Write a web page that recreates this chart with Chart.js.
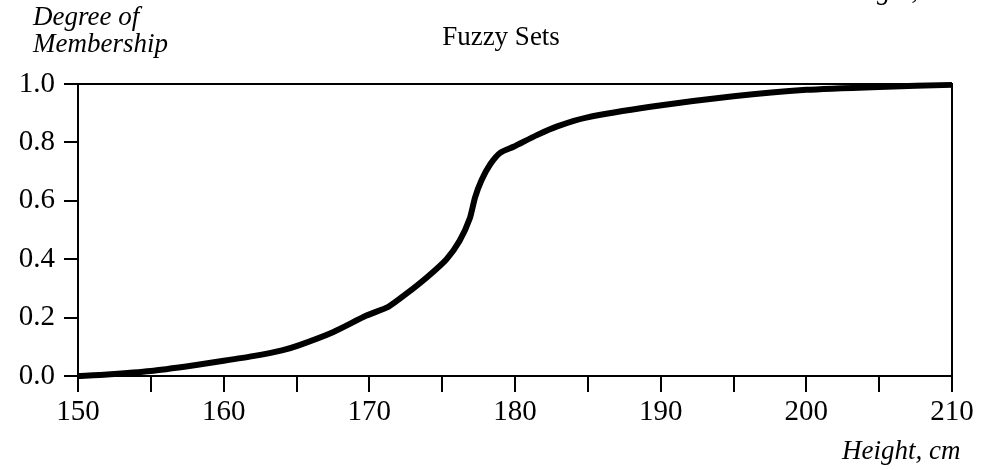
<!DOCTYPE html>
<html>
<head>
<meta charset="utf-8">
<script src="https://cdn.jsdelivr.net/npm/chart.js@4.4.1/dist/chart.umd.min.js"></script>
<style>
    html, body { margin: 0; padding: 0; background: #fff; }
    #wrap { width: 982px; height: 470px; position: relative; }
</style>
</head>
<body>
<div id="wrap"><canvas id="myChart"></canvas></div>
<script>
// values
const heights = [150, 152, 155, 158, 160, 162, 164, 165.2, 167.5, 169.8, 171.3, 172.5, 174, 175.3,
    176.2, 176.9, 177.25, 177.7, 178.3, 179, 179.9, 181.5, 182.9, 184.9, 189.3, 195, 200, 205, 210];
const membership = [0.0, 0.005, 0.017, 0.037, 0.052, 0.068, 0.088, 0.106, 0.15, 0.207, 0.237, 0.28, 0.34, 0.40,
    0.463, 0.54, 0.61, 0.67, 0.725, 0.765, 0.785, 0.825, 0.855, 0.885, 0.922, 0.958, 0.98, 0.99, 0.997];

const chartTitle = 'Fuzzy Sets';
const yTitle = ['Degree of', 'Membership'];
const xTitle = 'Height, cm';

const serif = '"Liberation Serif", "Times New Roman", serif';

const frameAndText = {
    id: 'frameAndText',
    afterDraw(chart) {
        const c = chart.ctx;
        const a = chart.chartArea;
        c.save();
        c.strokeStyle = '#000';
        c.lineWidth = 2;
        c.beginPath();
        c.moveTo(a.left, a.top);
        c.lineTo(a.right, a.top);
        c.lineTo(a.right, a.bottom);
        c.stroke();

        c.fillStyle = '#000';
        c.textBaseline = 'alphabetic';
        c.font = '27px ' + serif;
        c.textAlign = 'center';
        c.fillText(chartTitle, 501, 45);

        c.font = 'italic 27px ' + serif;
        c.textAlign = 'left';
        c.fillText(yTitle[0], 33, 25);
        c.fillText(yTitle[1], 33, 52);
        c.fillText(xTitle, 842, 459);
        // clipped copy of the axis title at the very top
        c.fillText(xTitle, 838, -1);
        c.restore();
    }
};

const ctx = document.getElementById('myChart');

const myChart = new Chart(ctx, {
    type: 'line',
    data: {
        datasets: [{
            data: heights.map((h, i) => ({ x: h, y: membership[i] })),
            borderColor: '#000',
            borderWidth: 6,
            pointRadius: 0,
            tension: 0.2,
            clip: false
        }]
    },
    options: {
        responsive: true,
        maintainAspectRatio: false,
        animation: false,
        layout: {
            padding: { top: 84, right: 30, left: 0, bottom: 0 }
        },
        plugins: {
            legend: { display: false },
            tooltip: { enabled: false }
        },
        scales: {
            x: {
                type: 'linear',
                min: 150,
                max: 210,
                afterFit: (s) => { s.height = 94; },
                border: { color: '#000', width: 2 },
                grid: { drawOnChartArea: false, color: '#000', lineWidth: 2, tickLength: 16 },
                ticks: {
                    stepSize: 5,
                    autoSkip: false,
                    maxRotation: 0,
                    padding: 3,
                    color: '#000',
                    font: { family: serif, size: 29 },
                    callback: (v) => (v % 10 === 0 ? String(v) : '')
                }
            },
            y: {
                min: 0,
                max: 1,
                afterFit: (s) => { s.width = 78; },
                border: { color: '#000', width: 2 },
                grid: { drawOnChartArea: false, color: '#000', lineWidth: 2, tickLength: 14 },
                ticks: {
                    stepSize: 0.2,
                    padding: 9,
                    color: '#000',
                    font: { family: serif, size: 29 },
                    callback: (v) => v.toFixed(1)
                }
            }
        }
    },
    plugins: [frameAndText]
});
</script>
</body>
</html>
